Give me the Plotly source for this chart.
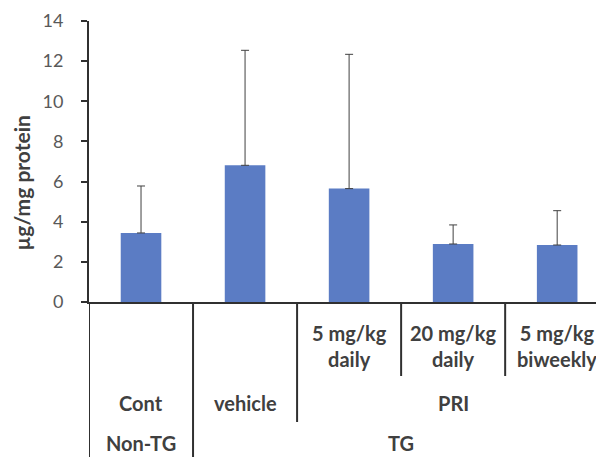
import plotly.graph_objects as go

# Data
dose_labels = ["", "", "5 mg/kg<br>daily", "20 mg/kg<br>daily", "5 mg/kg<br>biweekly"]
values = [3.44, 6.81, 5.65, 2.89, 2.84]
errors = [2.34, 5.73, 6.69, 0.95, 1.71]
treat_labels = ["Cont", "vehicle", "PRI"]
treat_pos = [0, 1, 3]
group_labels = ["Non-TG", "TG"]
group_pos = [0, 2.5]
y_ticks = [0, 2, 4, 6, 8, 10, 12, 14]

x = list(range(len(values)))

FONT = "Lato"
LABEL_COLOR = "#404040"
LINE_COLOR = "#303030"
LBL = dict(family=FONT, size=20, color=LABEL_COLOR, weight="bold")

# page has an 8px body margin; plot area in page pixels: top 21, bottom 302, left 89
def py(p):
    return (302 - p) / 281.0

annotations = []
for xi, lab in zip(x, dose_labels):
    if lab:
        annotations.append(dict(x=xi, y=py(346), xref="x", yref="paper", text=lab,
                                showarrow=False, font=LBL,
                                xanchor="center", yanchor="middle"))
for xi, lab in zip(treat_pos, treat_labels):
    annotations.append(dict(x=xi, y=py(403), xref="x", yref="paper", text=lab,
                            showarrow=False, font=LBL,
                            xanchor="center", yanchor="middle"))
for xi, lab in zip(group_pos, group_labels):
    annotations.append(dict(x=xi, y=py(457), xref="x", yref="paper", text=lab,
                            showarrow=False, font=LBL,
                            xanchor="center", yanchor="bottom"))
annotations.append(dict(x=(21 - 89) / 515.0, y=py(183.5), xref="paper", yref="paper",
                        text="µg/mg protein", textangle=-90, showarrow=False,
                        font=dict(family=FONT, size=21, color=LABEL_COLOR, weight="bold"),
                        xanchor="center", yanchor="middle"))

shapes = []
sep = [(-0.5, 457), (0.5, 457), (1.5, 422), (2.5, 376), (3.5, 376)]
for sx, bottom in sep:
    shapes.append(dict(type="line", xref="x", yref="paper", x0=sx, x1=sx,
                       y0=0, y1=py(bottom), line=dict(color=LINE_COLOR, width=2)))

fig = go.Figure()
fig.add_trace(go.Bar(
    x=x, y=values, width=0.39,
    marker=dict(color="#5B7CC4", line=dict(width=0)),
    error_y=dict(type="data", array=errors, arrayminus=[0] * len(errors),
                 symmetric=False, color="#404040", thickness=1, width=4),
))

fig.update_layout(
    width=596, height=449,
    margin=dict(l=81, r=0, t=13, b=155),
    paper_bgcolor="white", plot_bgcolor="white",
    showlegend=False,
    annotations=annotations, shapes=shapes,
    xaxis=dict(range=[-0.5, 4.45], showticklabels=False, ticks="",
               showgrid=False, zeroline=False, showline=True,
               linecolor=LINE_COLOR, linewidth=2),
    yaxis=dict(range=[0, 14], tickvals=y_ticks, ticks="outside", ticklen=6,
               tickcolor=LINE_COLOR, tickwidth=1.5,
               showgrid=False, zeroline=False, showline=True,
               linecolor=LINE_COLOR, linewidth=2,
               tickfont=dict(family=FONT, size=18, color="#595959"),
               ticklabelstandoff=14),
)

fig.write_html("out.html")
